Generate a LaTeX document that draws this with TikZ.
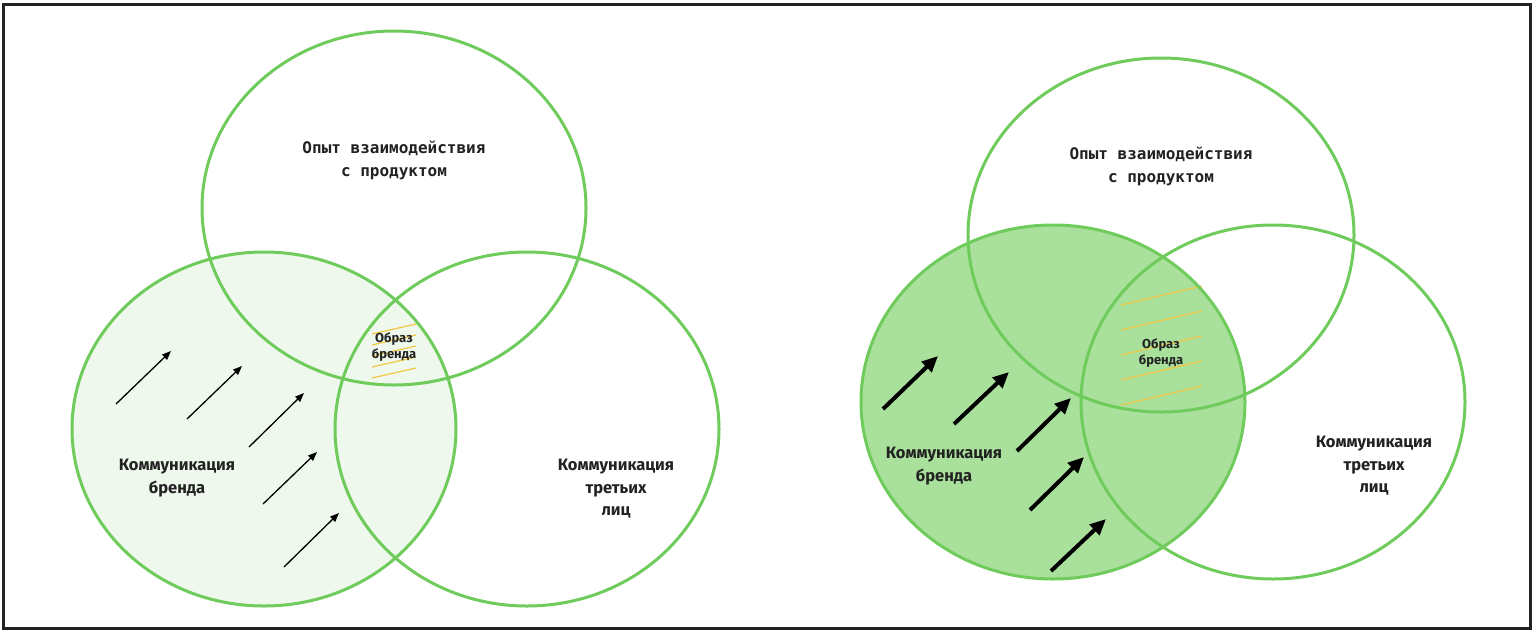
\documentclass[tikz,border=0pt]{standalone}
\usepackage{fontspec}
\setmonofont{DejaVu Sans Mono}
\setsansfont{Fira Sans}
\usetikzlibrary{arrows.meta}
\definecolor{venngreen}{HTML}{6FCB5C}
\definecolor{palefill}{HTML}{EEF8EC}
\definecolor{deepfill}{HTML}{A9E09B}
\definecolor{hatchyellow}{HTML}{F2C744}
\definecolor{framegray}{HTML}{222222}
\definecolor{inkgray}{HTML}{222222}

\begin{document}
\begin{tikzpicture}[x=1pt,y=-1pt,
    ring/.style={draw=venngreen,line width=3pt},
    toptext/.style={font=\ttfamily\bfseries\fontsize{16}{23}\selectfont,align=center,text=inkgray},
    sidetext/.style={font=\sffamily\bfseries\fontsize{16.5}{22.5}\selectfont,align=center,text=inkgray},
    imagetext/.style={font=\sffamily\bfseries\fontsize{13}{15.5}\selectfont,align=center,text=inkgray},
    thinarrow/.style={-{Triangle[length=9pt,width=7pt]},line width=1.3pt},
    boldarrow/.style={-{Triangle[length=16pt,width=14pt]},line width=4pt},
    hatch/.style={draw=hatchyellow,line width=1.2pt}]
    \useasboundingbox (0,0) rectangle (1536,633);
    \draw[framegray,line width=3pt] (3,4) rectangle (1530,628);

    \fill[palefill] (264,429) ellipse [x radius=192,y radius=177];
    \foreach \y in {334,345,356,367,378}
        \draw[hatch] (372,\y) -- (416,\y-10);
    \draw[ring] (394,208) ellipse [x radius=192,y radius=177];
    \draw[ring] (264,429) ellipse [x radius=192,y radius=177];
    \draw[ring] (527,429) ellipse [x radius=192,y radius=177];
    \foreach \n/\sx/\sy/\ex/\ey in {1/116/404/171/351,2/187/419/242/366,3/249/447/304/393,4/263/504/317/452,5/284/567/339/513} {
        \coordinate (lfrom\n) at (\sx,\sy);
        \coordinate (lto\n) at (\ex,\ey);
        \draw[thinarrow] (lfrom\n) -- (lto\n);
    }
    \node[toptext] (lexp) at (394,160) {Опыт взаимодействия\\с продуктом};
    \node[sidetext] (lbrand) at (177,478) {Коммуникация\\бренда};
    \node[sidetext] (lthird) at (616,489) {Коммуникация\\третьих\\лиц};
    \node[imagetext] (limage) at (394,347) {Образ\\бренда};

    \fill[deepfill] (1053,402) ellipse [x radius=192,y radius=177];
    \foreach \y in {305,330,355,380,405}
        \draw[hatch] (1121,\y) -- (1202,\y-19);
    \draw[ring] (1161,235) ellipse [x radius=193,y radius=177];
    \draw[ring] (1273,402) ellipse [x radius=192,y radius=177];
    \draw[ring] (1053,402) ellipse [x radius=192,y radius=177];
    \foreach \n/\sx/\sy/\ex/\ey in {1/883/409/938/356,2/954/424/1009/372,3/1017/451/1071/398,4/1030/510/1084/457,5/1051/571/1106/519} {
        \coordinate (rfrom\n) at (\sx,\sy);
        \coordinate (rto\n) at (\ex,\ey);
        \draw[boldarrow] (rfrom\n) -- (rto\n);
    }
    \node[toptext] (rexp) at (1161,166) {Опыт взаимодействия\\с продуктом};
    \node[sidetext] (rbrand) at (944,466) {Коммуникация\\бренда};
    \node[sidetext] (rthird) at (1374,466) {Коммуникация\\третьих\\лиц};
    \node[imagetext] (rimage) at (1161,353) {Образ\\бренда};
\end{tikzpicture}
\end{document}
